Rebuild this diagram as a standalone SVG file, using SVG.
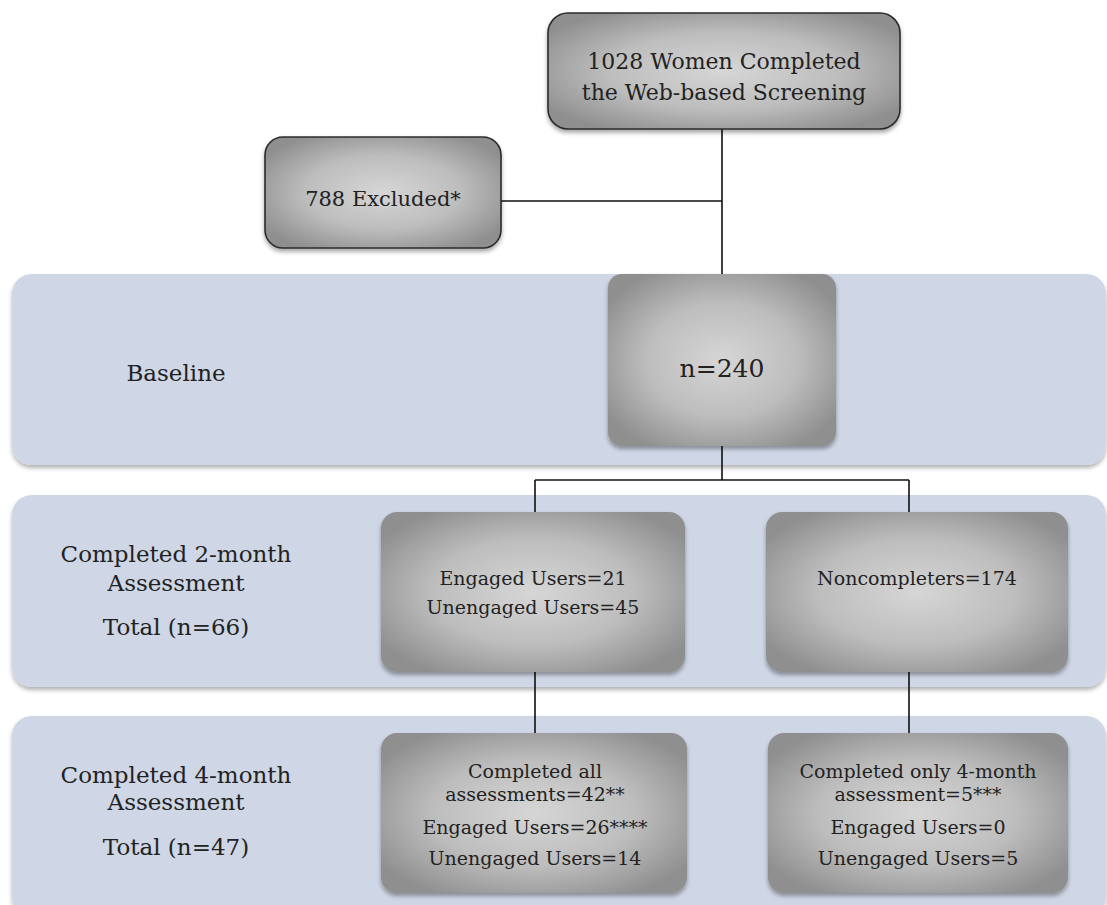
<svg xmlns="http://www.w3.org/2000/svg" width="1107" height="905" viewBox="0 0 1107 905">
<defs>
<radialGradient id="g" cx="50%" cy="50%" r="60%">
<stop offset="0" stop-color="#d6d6d6"/>
<stop offset="0.55" stop-color="#bdbdbd"/>
<stop offset="1" stop-color="#8f8f8f"/>
</radialGradient>
<filter id="sh" x="-10%" y="-10%" width="120%" height="130%">
<feDropShadow dx="0" dy="3" stdDeviation="2" flood-color="#000" flood-opacity="0.35"/>
</filter>
<filter id="bsh" x="-5%" y="-10%" width="110%" height="125%">
<feDropShadow dx="0" dy="3" stdDeviation="2" flood-color="#000" flood-opacity="0.3"/>
</filter>
</defs>
<style>
.band{fill:#cfd6e5;filter:url(#bsh)}
.box{fill:url(#g);filter:url(#sh)}
.bord{stroke:#2b2b2b;stroke-width:1.6}
.t{font-family:"DejaVu Serif","Liberation Serif",serif;fill:#222;text-anchor:middle}
.lb{font-size:23px}
.bx{font-size:19px}
.cn{stroke:#111;stroke-width:1.6;fill:none}
</style>
<rect width="1107" height="905" fill="#fff"/>
<g id="bands">
<rect class="band" x="12" y="274" width="1094" height="191" rx="20"/>
<rect class="band" x="12" y="495" width="1094" height="192" rx="20"/>
<rect class="band" x="12" y="716" width="1094" height="200" rx="20"/>
</g>
<g id="connectors">
<path class="cn" d="M722 129V274M501 201H722M722 446V480M535 480H909M535 480V512M909 480V512M535 672V733M909 672V733"/>
</g>
<g id="screening">
<rect class="box bord" x="548" y="13" width="352" height="116" rx="20"/>
<text class="t" x="724" y="69" font-size="22">1028 Women Completed</text>
<text class="t" x="724" y="100" font-size="22">the Web-based Screening</text>
</g>
<g id="excluded">
<rect class="box bord" x="265" y="137" width="236" height="111" rx="18"/>
<text class="t" x="383" y="206" font-size="21">788 Excluded*</text>
</g>
<g id="baseline-label">
<text class="t lb" x="176" y="381">Baseline</text>
</g>
<g id="baseline">
<rect class="box" x="608" y="274" width="228" height="172" rx="14"/>
<text class="t" x="722" y="377" font-size="25">n=240</text>
</g>
<g id="month2-label">
<text class="t lb" x="176" y="562">Completed 2-month</text>
<text class="t lb" x="176" y="591">Assessment</text>
<text class="t lb" x="176" y="635">Total (n=66)</text>
</g>
<g id="month2-completers">
<rect class="box" x="381" y="512" width="304" height="160" rx="16"/>
<text class="t bx" x="533" y="585">Engaged Users=21</text>
<text class="t bx" x="533" y="614">Unengaged Users=45</text>
</g>
<g id="month2-noncompleters">
<rect class="box" x="766" y="512" width="302" height="160" rx="16"/>
<text class="t bx" x="917" y="585">Noncompleters=174</text>
</g>
<g id="month4-label">
<text class="t lb" x="176" y="783">Completed 4-month</text>
<text class="t lb" x="176" y="810">Assessment</text>
<text class="t lb" x="176" y="855">Total (n=47)</text>
</g>
<g id="month4-all">
<rect class="box" x="381" y="733" width="306" height="160" rx="16"/>
<text class="t bx" x="535" y="778">Completed all</text>
<text class="t bx" x="535" y="801">assessments=42**</text>
<text class="t bx" x="535" y="834">Engaged Users=26****</text>
<text class="t bx" x="535" y="865">Unengaged Users=14</text>
</g>
<g id="month4-only">
<rect class="box" x="768" y="733" width="300" height="160" rx="16"/>
<text class="t bx" x="918" y="778">Completed only 4-month</text>
<text class="t bx" x="918" y="801">assessment=5***</text>
<text class="t bx" x="918" y="834">Engaged Users=0</text>
<text class="t bx" x="918" y="865">Unengaged Users=5</text>
</g>
</svg>
